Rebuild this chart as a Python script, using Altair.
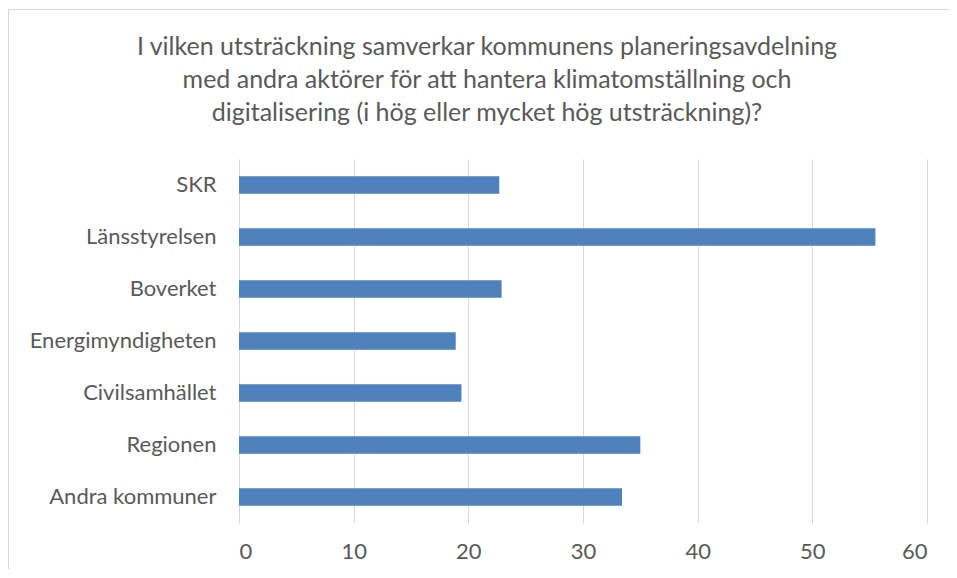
import altair as alt
import pandas as pd

categories = ["SKR", "Länsstyrelsen", "Boverket", "Energimyndigheten",
              "Civilsamhället", "Regionen", "Andra kommuner"]
values = [22.7, 55.5, 22.9, 18.9, 19.4, 35.0, 33.4]
x_ticks = [0, 10, 20, 30, 40, 50, 60]
title_lines = [
    "I vilken utsträckning samverkar kommunens planeringsavdelning",
    "med andra aktörer för att hantera klimatomställning och",
    "digitalisering (i hög eller mycket hög utsträckning)?",
]

df = pd.DataFrame({"aktor": categories, "varde": values})

FONT = "Lato"
GREY = "#595959"

bars = alt.Chart(df).mark_bar(color="#4f81bd").encode(
    x=alt.X("varde:Q",
            scale=alt.Scale(domain=[0, 60], nice=False),
            axis=alt.Axis(values=x_ticks, title=None, domain=False, ticks=False,
                          tickSize=0, labelPadding=18, labelFontSize=22,
                          labelColor=GREY, labelFont=FONT,
                          gridColor="#d9d9d9", gridWidth=1)),
    y=alt.Y("aktor:N", sort=categories,
            scale=alt.Scale(paddingInner=0.66, paddingOuter=0.33),
            axis=alt.Axis(title=None, domain=False, ticks=False, tickSize=0,
                          labelPadding=23, labelFontSize=22, labelColor=GREY,
                          labelFont=FONT, grid=False, labelLimit=400)),
)

border = alt.Chart(df).mark_rect(fill=None, stroke="#d9d9d9", strokeWidth=1,
                                 clip=False).encode(
    x=alt.value(-230.5), x2=alt.value(800),
    y=alt.value(-149.5), y2=alt.value(500),
)

chart = alt.layer(border, bars).properties(
    width=688,
    height=364,
    title=alt.TitleParams(title_lines, anchor="middle", dx=-96, offset=-117,
                          fontSize=25, font=FONT, fontWeight="normal",
                          color=GREY, lineHeight=33),
    autosize=alt.AutoSizeParams(type="none"),
    padding={"left": 231, "top": 151, "right": 22, "bottom": 46},
).configure(background="white").configure_view(stroke="transparent", strokeWidth=0)

chart.save("out.html", embed_options={"renderer": "svg", "actions": False})
